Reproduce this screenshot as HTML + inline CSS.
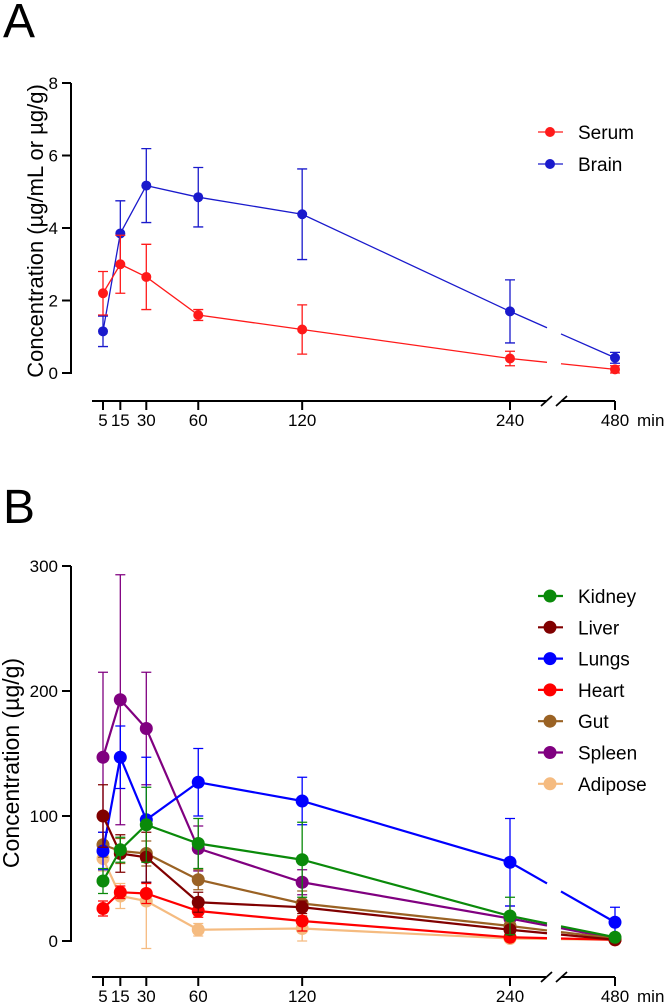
<!DOCTYPE html>
<html><head><meta charset="utf-8"><style>
body{margin:0;background:#fff;}
svg text{font-family:"Liberation Sans",Arial,sans-serif;}
</style></head><body>
<svg id="chart" width="666" height="1003" xmlns="http://www.w3.org/2000/svg">
<text x="3" y="37" font-size="48">A</text>
<text x="3" y="523" font-size="48">B</text>
<g id="gA"></g>
<g id="gB"></g>
</svg>
<script>
const times=[5,15,30,60,120,240,480];
const timeLabels=["5","15","30","60","120","240","480"];
const serumMean=[2.2,3.0,2.65,1.6,1.2,0.4,0.1];
const serumErr=[0.6,0.8,0.9,0.15,0.68,0.2,0.1];
const brainMean=[1.15,3.85,5.17,4.85,4.38,1.7,0.42];
const brainErr=[0.42,0.9,1.02,0.82,1.25,0.87,0.15];
const aTicks=[0,2,4,6,8];
const kidneyMean=[48,73,93,78,65,20,3];
const kidneyErr=[10,10,30,20,30,15,2];
const liverMean=[100,70,67,31,27,9,1];
const liverErr=[25,15,20,8,5,3,1];
const lungsMean=[72,147,97,127,112,63,15];
const lungsErr=[15,25,50,27,19,35,12];
const heartMean=[26,39,38,24,16,3,1];
const heartErr=[6,5,8,5,8,2,1];
const gutMean=[77,72,70,49,30,12,2];
const gutErr=[10,10,10,8,10,5,1];
const spleenMean=[147,193,170,74,47,18,2];
const spleenErr=[68,100,45,18,10,10,1];
const adiposeMean=[66,36,32,9,10,2,1];
const adiposeErr=[10,10,38,5,10,2,1];
const bTicks=[0,100,200,300];

const NS="http://www.w3.org/2000/svg";
function mk(p,t,a){const e=document.createElementNS(NS,t);for(const k in a)e.setAttribute(k,a[k]);p.appendChild(e);return e;}
function xsc(t){return t<=240?103+(t-5)*(510-103)/235:615;}

function panel(g,y0,ppu,ticks,yTitle,titleX,yMid,titleSize,series,legendY,legendStep,axisY,r,lw){
  const ys=v=>y0-v*ppu;
  const yAxis=mk(g,'line',{x1:71,x2:71,y1:ys(ticks[ticks.length-1]),y2:y0+1,stroke:'#000','stroke-width':2});
  
  ticks.forEach(t=>{
    const l=mk(g,'line',{x1:62,x2:71,y1:ys(t),y2:ys(t),stroke:'#000','stroke-width':2});
    
    const tx=mk(g,'text',{x:58,y:ys(t)+6,'text-anchor':'end','font-size':17});tx.textContent=t;
    
  });
  const tt=mk(g,'text',{x:0,y:0,'text-anchor':'middle','font-size':titleSize,transform:`translate(${titleX},${yMid}) rotate(-90)`});
  tt.textContent=yTitle;
  const ax1=mk(g,'line',{x1:92,x2:546,y1:axisY,y2:axisY,stroke:'#000','stroke-width':2});
  
  const ax2=mk(g,'line',{x1:561,x2:615,y1:axisY,y2:axisY,stroke:'#000','stroke-width':2});
  
  [[541,552],[556,567]].forEach(b=>{const bl=mk(g,'line',{x1:b[0],x2:b[1],y1:axisY+5,y2:axisY-5,stroke:'#000','stroke-width':1.8});
    });
  times.forEach((t,i)=>{const x=xsc(t);
    const l=mk(g,'line',{x1:x,x2:x,y1:axisY,y2:axisY+9,stroke:'#000','stroke-width':2});
    
    const tx=mk(g,'text',{x:x,y:axisY+25,'text-anchor':'middle','font-size':17});tx.textContent=timeLabels[i];
    });
  const mn=mk(g,'text',{x:637,y:axisY+25,'font-size':17});mn.textContent='min';
  
  series.slice().reverse().forEach(s=>{
    const sg=mk(g,'g',{});
    const pts=times.map((t,i)=>[xsc(t),ys(s.m[i])]);
    const p5=pts[5],p6=pts[6];
    const f=t=>[p5[0]+(p6[0]-p5[0])*t,p5[1]+(p6[1]-p5[1])*t];
    const a=f((547-p5[0])/(p6[0]-p5[0])),b=f((561-p5[0])/(p6[0]-p5[0]));
    const pl=mk(sg,'polyline',{points:pts.slice(0,6).map(p=>p.join(',')).join(' ')+' '+a.join(','),fill:'none',stroke:s.c,'stroke-width':lw});
    
    const l2=mk(sg,'line',{x1:b[0],y1:b[1],x2:p6[0],y2:p6[1],stroke:s.c,'stroke-width':lw});
    
    pts.forEach((p,i)=>{const hi=ys(s.m[i]+s.e[i]),lo=ys(Math.max(s.m[i]-s.e[i],-100));
      const eb=mk(sg,'path',{d:`M${p[0]},${hi}V${lo}M${p[0]-5},${hi}H${p[0]+5}M${p[0]-5},${lo}H${p[0]+5}`,stroke:s.c,'stroke-width':1.3,fill:'none'});
      
      const c=mk(sg,'circle',{cx:p[0],cy:p[1],r:r,fill:s.c});
      });
  });
  series.forEach((s,i)=>{const y=legendY+i*legendStep;
    const lg=mk(g,'g',{});
    mk(lg,'line',{x1:538,x2:563,y1:y,y2:y,stroke:s.c,'stroke-width':lw});
    mk(lg,'circle',{cx:550,cy:y,r:r,fill:s.c});
    const tx=mk(lg,'text',{x:578,y:y+7,'font-size':19});tx.textContent=s.name;});
}
panel(document.getElementById('gA'),373,36.25,aTicks,'Concentration (µg/mL or µg/g)',43,231,22,
 [{name:'Serum',m:serumMean,e:serumErr,c:'#ff1a1a'},{name:'Brain',m:brainMean,e:brainErr,c:'#1a1acc'}],132,32,401,5,1.3);
panel(document.getElementById('gB'),941,1.25,bTicks,'Concentration (µg/g)',19,763,23,
 [{name:'Kidney',m:kidneyMean,e:kidneyErr,c:'#0a8a0a'},{name:'Liver',m:liverMean,e:liverErr,c:'#800000'},
  {name:'Lungs',m:lungsMean,e:lungsErr,c:'#0000ff'},{name:'Heart',m:heartMean,e:heartErr,c:'#ff0000'},
  {name:'Gut',m:gutMean,e:gutErr,c:'#9a6224'},{name:'Spleen',m:spleenMean,e:spleenErr,c:'#800080'},
  {name:'Adipose',m:adiposeMean,e:adiposeErr,c:'#f5bb80'}],596,31.3,977,6.5,2.2);
</script>
</body></html>
